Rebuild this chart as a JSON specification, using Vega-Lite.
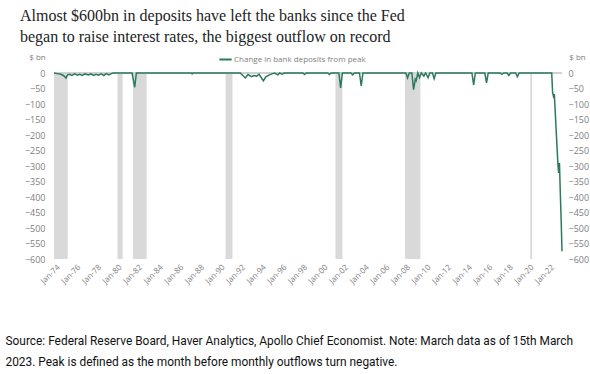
{
  "$schema": "https://vega.github.io/schema/vega-lite/v6.json",
  "width": 508,
  "height": 186,
  "autosize": "none",
  "padding": {"left": 54, "top": 73, "right": 28, "bottom": 115},
  "background": "white",
  "config": {"view": {"stroke": null}, "font": "Open Sans"},
  "title": {
    "text": ["Almost $600bn in deposits have left the banks since the Fed", "began to raise interest rates, the biggest outflow on record"],
    "anchor": "start",
    "frame": "group",
    "dx": -34,
    "offset": 7,
    "font": "Liberation Serif",
    "fontSize": 16,
    "fontWeight": "normal",
    "color": "#222222",
    "lineHeight": 21
  },
  "datasets": {
    "deposits": [
      {"date": "1973-11-01", "value": 0},
      {"date": "1974-03-01", "value": -2},
      {"date": "1974-07-01", "value": -4},
      {"date": "1974-10-01", "value": -8},
      {"date": "1975-01-01", "value": -16},
      {"date": "1975-03-01", "value": -6},
      {"date": "1975-05-01", "value": -4},
      {"date": "1975-08-01", "value": -8},
      {"date": "1975-11-01", "value": -3},
      {"date": "1976-02-01", "value": -7},
      {"date": "1976-05-01", "value": -4},
      {"date": "1976-08-01", "value": -8},
      {"date": "1976-11-01", "value": -3},
      {"date": "1977-03-01", "value": -6},
      {"date": "1977-06-01", "value": -3},
      {"date": "1977-09-01", "value": -8},
      {"date": "1977-12-01", "value": -4},
      {"date": "1978-03-01", "value": -7},
      {"date": "1978-06-01", "value": -3},
      {"date": "1978-09-01", "value": -8},
      {"date": "1978-12-01", "value": -2},
      {"date": "1979-03-01", "value": -6},
      {"date": "1979-06-01", "value": -2},
      {"date": "1979-08-01", "value": 0},
      {"date": "1981-06-01", "value": 0},
      {"date": "1981-09-01", "value": -46},
      {"date": "1981-11-01", "value": 0},
      {"date": "1987-03-01", "value": 0},
      {"date": "1987-04-01", "value": -3},
      {"date": "1987-05-01", "value": 0},
      {"date": "1991-12-01", "value": 0},
      {"date": "1992-06-01", "value": -16},
      {"date": "1992-09-01", "value": -5},
      {"date": "1993-01-01", "value": -12},
      {"date": "1993-04-01", "value": -8},
      {"date": "1993-07-01", "value": -10},
      {"date": "1993-10-01", "value": -4},
      {"date": "1994-03-01", "value": -25},
      {"date": "1994-06-01", "value": -12},
      {"date": "1994-10-01", "value": -6},
      {"date": "1995-02-01", "value": -2},
      {"date": "1995-04-01", "value": 0},
      {"date": "1995-08-01", "value": -6},
      {"date": "1995-10-01", "value": 0},
      {"date": "1996-01-01", "value": -4},
      {"date": "1996-03-01", "value": 0},
      {"date": "1998-01-01", "value": 0},
      {"date": "1998-03-01", "value": -5},
      {"date": "1998-05-01", "value": 0},
      {"date": "2000-06-01", "value": 0},
      {"date": "2000-08-01", "value": -5},
      {"date": "2000-10-01", "value": 0},
      {"date": "2001-07-01", "value": 0},
      {"date": "2001-09-01", "value": -48},
      {"date": "2001-11-01", "value": 0},
      {"date": "2002-09-01", "value": 0},
      {"date": "2002-11-01", "value": -6},
      {"date": "2003-01-01", "value": 0},
      {"date": "2003-07-01", "value": 0},
      {"date": "2003-09-01", "value": -42},
      {"date": "2003-11-01", "value": 0},
      {"date": "2008-01-01", "value": 0},
      {"date": "2008-03-01", "value": -16},
      {"date": "2008-05-01", "value": 0},
      {"date": "2008-08-01", "value": 0},
      {"date": "2008-10-01", "value": -54},
      {"date": "2008-12-01", "value": -20},
      {"date": "2009-01-01", "value": -25},
      {"date": "2009-03-01", "value": 0},
      {"date": "2009-05-01", "value": -15},
      {"date": "2009-07-01", "value": 0},
      {"date": "2009-10-01", "value": -10},
      {"date": "2009-12-01", "value": 0},
      {"date": "2010-03-01", "value": -15},
      {"date": "2010-05-01", "value": 0},
      {"date": "2010-08-01", "value": 0},
      {"date": "2010-10-01", "value": -18},
      {"date": "2010-12-01", "value": 0},
      {"date": "2014-06-01", "value": 0},
      {"date": "2014-08-01", "value": -38},
      {"date": "2014-10-01", "value": 0},
      {"date": "2015-09-01", "value": 0},
      {"date": "2015-11-01", "value": -32},
      {"date": "2016-01-01", "value": 0},
      {"date": "2017-03-01", "value": 0},
      {"date": "2017-05-01", "value": -4},
      {"date": "2017-07-01", "value": 0},
      {"date": "2017-11-01", "value": 0},
      {"date": "2018-01-01", "value": -8},
      {"date": "2018-03-01", "value": 0},
      {"date": "2018-09-01", "value": 0},
      {"date": "2018-11-01", "value": -12},
      {"date": "2019-01-01", "value": 0},
      {"date": "2022-03-01", "value": 0},
      {"date": "2022-04-01", "value": -62},
      {"date": "2022-05-01", "value": -75},
      {"date": "2022-06-01", "value": -68},
      {"date": "2022-07-01", "value": -120},
      {"date": "2022-08-01", "value": -175},
      {"date": "2022-09-01", "value": -230},
      {"date": "2022-10-01", "value": -285},
      {"date": "2022-11-01", "value": -322},
      {"date": "2022-12-01", "value": -290},
      {"date": "2023-01-01", "value": -390},
      {"date": "2023-02-01", "value": -480},
      {"date": "2023-03-01", "value": -575}
    ],
    "recessions": [
      {"start": "1973-11-01", "end": "1975-03-01"},
      {"start": "1980-01-01", "end": "1980-07-01"},
      {"start": "1981-07-01", "end": "1982-11-01"},
      {"start": "1990-07-01", "end": "1991-03-01"},
      {"start": "2001-03-01", "end": "2001-11-01"},
      {"start": "2007-12-01", "end": "2009-06-01"},
      {"start": "2020-02-01", "end": "2020-04-01"}
    ]
  },
  "layer": [
    {
      "data": {"name": "recessions"},
      "mark": {"type": "rect", "color": "#d9d9d9"},
      "encoding": {
        "x": {"field": "start", "type": "temporal"},
        "x2": {"field": "end"},
        "y": {"datum": 0, "type": "quantitative", "scale": {"domain": [-600, 0], "nice": false},
          "axis": {"orient": "right", "values": [0, -50, -100, -150, -200, -250, -300, -350, -400, -450, -500, -550, -600],
            "domain": false, "ticks": false, "grid": false, "labelColor": "#808080", "labelFontSize": 9, "labelPadding": 6, "labelAlign": "left",
            "title": "$ bn", "titleAngle": 0, "titleFontWeight": "normal", "titleFontSize": 8, "titleColor": "#808080", "titleX": 15, "titleY": -16, "titleAlign": "center", "titleBaseline": "middle"}},
        "y2": {"datum": -600}
      }
    },
    {
      "data": {"name": "deposits"},
      "mark": {"type": "rule", "color": "#d0d0d0", "strokeWidth": 1},
      "encoding": {"y": {"datum": 0, "type": "quantitative", "scale": {"domain": [-600, 0], "nice": false}, "axis": null}}
    },
    {
      "data": {"name": "deposits"},
      "mark": {"type": "line", "strokeWidth": 1.5, "interpolate": "linear"},
      "encoding": {
        "x": {"field": "date", "type": "temporal",
          "scale": {"domain": [{"year": 1973, "month": 11, "date": 1}, {"year": 2023, "month": 3, "date": 1}]},
          "axis": {"format": "%b-%y", "tickCount": {"interval": "year", "step": 2}, "labelAngle": -45, "labelAlign": "right", "labelBaseline": "top",
            "labelFontSize": 8, "labelColor": "#808080", "domain": false, "ticks": false, "grid": false, "labelPadding": 4, "labelOverlap": false,
            "title": ["Source: Federal Reserve Board, Haver Analytics, Apollo Chief Economist. Note: March data as of 15th March", "2023. Peak is defined as the month before monthly outflows turn negative."],
            "titleFont": "Roboto", "titleFontSize": 11.9, "titleFontWeight": "normal", "titleColor": "#111111", "titleX": -49, "titleY": 85, "titleAlign": "left", "titleAnchor": "start", "titleBaseline": "alphabetic", "titleLineHeight": 21}},
        "y": {"field": "value", "type": "quantitative", "scale": {"domain": [-600, 0], "nice": false},
          "axis": {"orient": "left", "values": [0, -50, -100, -150, -200, -250, -300, -350, -400, -450, -500, -550, -600],
            "domain": false, "ticks": false, "grid": false, "labelColor": "#808080", "labelFontSize": 9, "labelPadding": 9,
            "title": "$ bn", "titleAngle": 0, "titleFontWeight": "normal", "titleFontSize": 8, "titleColor": "#808080", "titleX": -17, "titleY": -16, "titleAlign": "center", "titleBaseline": "middle"}},
        "color": {"datum": "Change in bank deposits from peak", "type": "nominal",
          "scale": {"range": ["#2b7a5c"]},
          "legend": {"orient": "none", "legendX": 164, "legendY": -21, "title": null, "symbolType": "stroke", "symbolSize": 150, "symbolStrokeWidth": 2, "labelFontSize": 8, "labelColor": "#808080", "labelOffset": 1}}
      }
    }
  ],
  "resolve": {"scale": {"y": "independent"}}
}
